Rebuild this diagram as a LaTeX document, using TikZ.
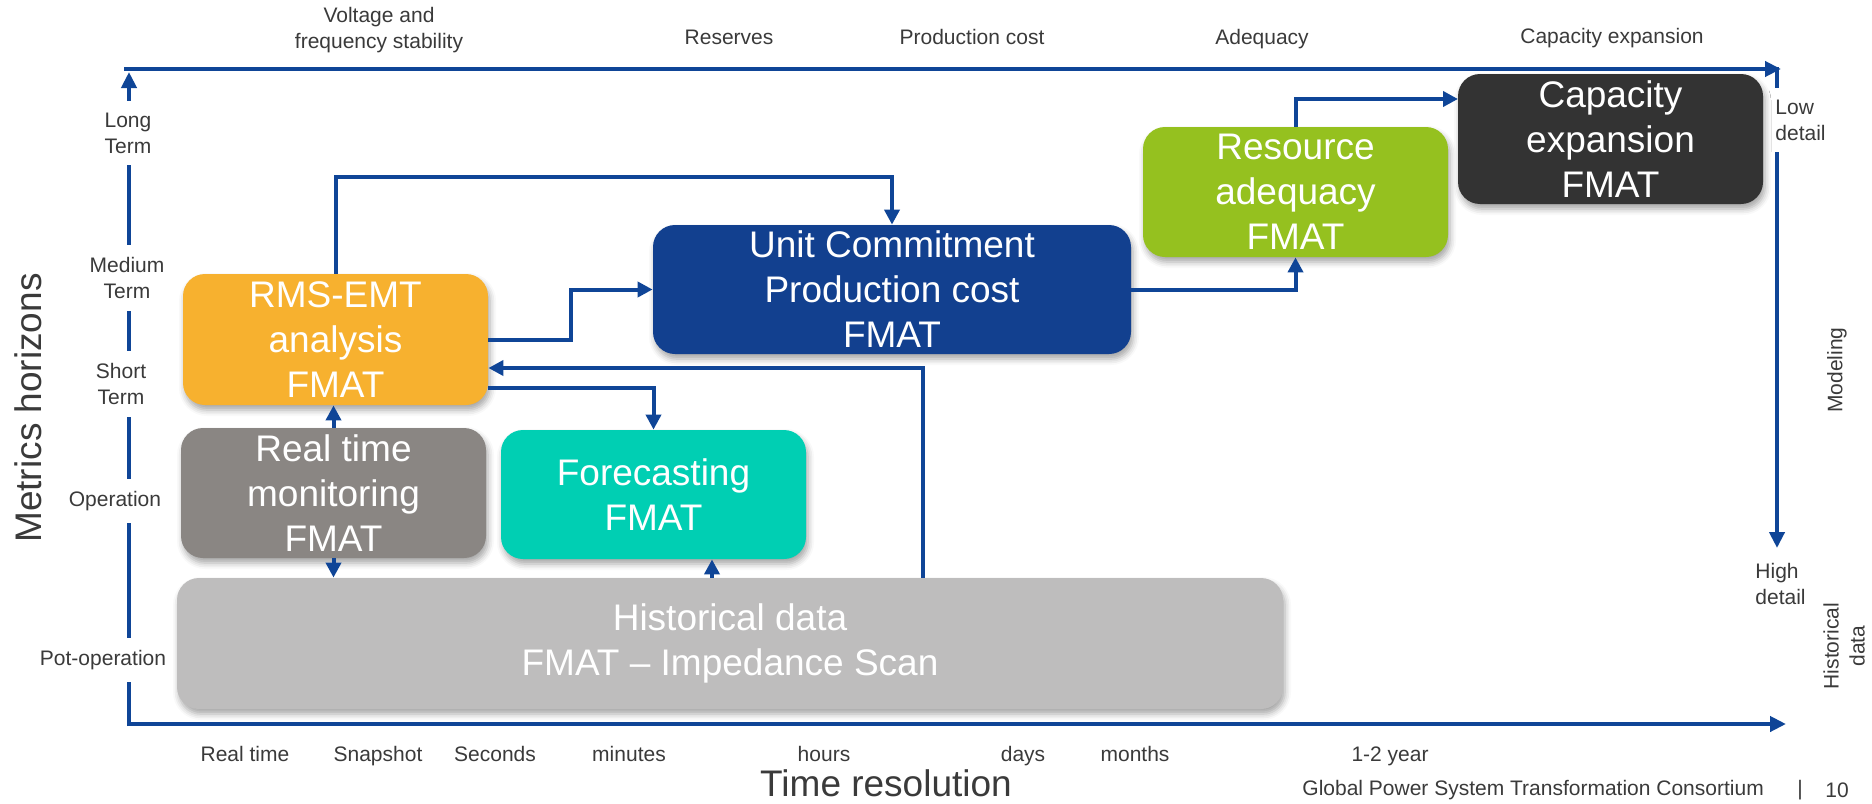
\documentclass[tikz,border=0pt]{standalone}
\usepackage{fontspec}
\setmainfont{Liberation Sans}
\usetikzlibrary{arrows.meta,shadows.blur,calc}
\definecolor{lineblue}{HTML}{0F4597}
\definecolor{ucblue}{HTML}{12408F}
\definecolor{rmsorange}{HTML}{F7B12F}
\definecolor{rtgray}{HTML}{8A8683}
\definecolor{fcteal}{HTML}{00CFB3}
\definecolor{ragreen}{HTML}{95C11F}
\definecolor{capdark}{HTML}{333333}
\definecolor{histgray}{HTML}{BEBDBD}
\definecolor{labelgray}{HTML}{3A3A3A}
\begin{document}
\begin{tikzpicture}[x=0.5pt,y=-0.5pt,
  box/.style={rounded corners=11pt, text=white, align=center,
    font=\fontsize{18.5}{22.5}\selectfont, inner sep=0pt,
    blur shadow={shadow xshift=1pt, shadow yshift=-2.5pt, shadow blur radius=3pt, shadow opacity=35}},
  conn/.style={draw=lineblue, line width=2pt, -{Triangle[length=7.5pt,width=7.5pt]}},
  axis/.style={draw=lineblue, line width=2.25pt},
  axarrow/.style={axis, -{Triangle[length=8pt,width=7.5pt]}},
  lbl/.style={text=labelgray, font=\fontsize{10.5}{13}\selectfont, align=center, inner sep=2pt},
  baselbl/.style={lbl, anchor=base},
  gaplbl/.style={lbl, fill=white, inner xsep=3pt, inner ysep=6pt},
  big/.style={text=labelgray, font=\fontsize{18.5}{22}\selectfont, inner sep=0pt}]
\useasboundingbox (0,0) rectangle (1872,803);

% axes
\coordinate (ybot) at (129,726);
\coordinate (ytop) at (129,72);
\coordinate (tstart) at (124,69);
\coordinate (tend) at (1781,69);
\coordinate (rtop) at (1777,67);
\coordinate (rend) at (1777,548);
\coordinate (xstart) at (127,724);
\coordinate (xend) at (1786,724);
\draw[axarrow] (ybot) -- (ytop);
\draw[axarrow] (tstart) -- (tend);
\draw[axarrow] (rtop) -- (rend);
\draw[axarrow] (xstart) -- (xend);

% labels on the left axis
\node[gaplbl] (lt) at (128,133) {Long\\Term};
\node[gaplbl] (mt) at (127,278) {Medium\\Term};
\node[gaplbl] (st) at (121,384) {Short\\Term};
\node[gaplbl] (op) at (115,501) {Operation};
\node[gaplbl] (po) at (103,660) {Pot-operation};

% right side labels
\node[gaplbl, align=left, anchor=west, inner xsep=3pt] (low) at (1769,120) {Low\\detail};
\node[lbl, align=left, anchor=west] (high) at (1751,584) {High\\detail};
\node[lbl, rotate=90] (mod) at (1837,370) {Modeling};
\node[lbl, rotate=90] (hdat) at (1844,646) {Historical\\data};

% top labels
\node[lbl] (vfs) at (379,30) {Voltage and\\frequency stability};
\node[baselbl] (res) at (729,44) {Reserves};
\node[baselbl] (pc) at (972,44) {Production cost};
\node[baselbl] (adq) at (1262,44) {Adequacy};
\node[baselbl] (cexp) at (1612,43) {Capacity expansion};

% bottom labels
\node[baselbl] (t1) at (245,761) {Real time};
\node[baselbl] (t2) at (378,761) {Snapshot};
\node[baselbl] (t3) at (495,761) {Seconds};
\node[baselbl] (t4) at (629,761) {minutes};
\node[baselbl] (t5) at (824,761) {hours};
\node[baselbl] (t6) at (1023,761) {days};
\node[baselbl] (t7) at (1135,761) {months};
\node[baselbl] (t8) at (1390,761) {1-2 year};
\node[big] (tres) at (886,783) {Time resolution};
\node[big, rotate=90] (mh) at (28,408) {Metrics horizons};
\node[lbl, anchor=west] (foot) at (1298,790) {Global Power System Transformation Consortium};
\node[lbl] (bar) at (1800,790) {|};
\node[lbl] (pg) at (1837,790) {10};

% boxes
\node[box, fill=rmsorange, minimum width=152.5pt, minimum height=65.5pt] (rms) at (335.5,339.5) {RMS-EMT\\analysis\\FMAT};
\node[box, fill=rtgray, minimum width=152.5pt, minimum height=65pt] (rt) at (333.5,493) {Real time\\monitoring\\FMAT};
\node[box, fill=fcteal, minimum width=152.5pt, minimum height=64.5pt] (fc) at (653.5,494.5) {Forecasting\\FMAT};
\node[box, fill=histgray, minimum width=553pt, minimum height=65.5pt] (hist) at (730,643.5) {Historical data\\FMAT -- Impedance Scan};
\node[box, fill=ucblue, minimum width=239pt, minimum height=64.5pt] (uc) at (892,289.5) {Unit Commitment\\Production cost\\FMAT};
\node[box, fill=ragreen, minimum width=152.5pt, minimum height=65pt] (ra) at (1295.5,192) {Resource\\adequacy\\FMAT};
\node[box, fill=capdark, minimum width=152.5pt, minimum height=65pt] (cap) at (1610.5,139) {Capacity\\expansion\\FMAT};

% connectors
\coordinate (b1) at (892,177);
\draw[conn] (rms.north) |- (b1) -- (uc.north);
\coordinate (b2) at (571,339.5);
\draw[conn] (rms.east) -- (b2) |- (uc.west);
\coordinate (b3) at (923,368);
\draw[conn] (b3 |- hist.north) -- (b3) -- (b3 -| rms.east);
\coordinate (b4) at (653.5,388);
\draw[conn] (b4 -| rms.east) -- (b4) -- (fc.north);
\draw[conn] (rt.north) -- (rt.north |- rms.south);
\draw[conn] (rt.south) -- (rt.south |- hist.north);
\coordinate (b5) at (712,0);
\draw[conn] (b5 |- hist.north) -- (b5 |- fc.south);
\draw[conn] (uc.east) -| (ra.south);
\coordinate (b6) at (1458,99);
\draw[conn] (ra.north) |- (b6);
\end{tikzpicture}
\end{document}
